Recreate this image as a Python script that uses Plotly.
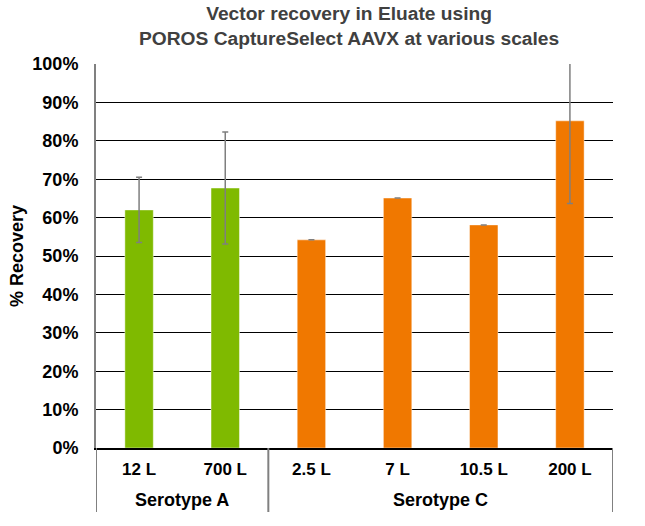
import plotly.graph_objects as go

groups = ["Serotype A", "Serotype A", "Serotype C", "Serotype C", "Serotype C", "Serotype C"]
scales = ["12 L", "700 L", "2.5 L", "7 L", "10.5 L", "200 L"]
recovery = [0.620, 0.677, 0.542, 0.651, 0.581, 0.852]
error = [0.085, 0.146, 0.0, 0.0, 0.0, 0.215]
colors = ["#7FBA00", "#7FBA00", "#F07800", "#F07800", "#F07800", "#F07800"]

font_family = "Liberation Sans, Arial, sans-serif"

fig = go.Figure(
    go.Bar(
        x=scales,
        y=recovery,
        marker=dict(color=colors, line=dict(color="rgba(255,255,255,0.45)", width=1)),
        width=0.33,
        error_y=dict(type="data", array=error, visible=True, color="#7F7F7F",
                     thickness=1.5, width=3),
    )
)

# group labels and separators derived from the group list
group_names = []
for g in groups:
    if g not in group_names:
        group_names.append(g)
boundaries = [-0.5]
for name in group_names:
    idx = [i for i, g in enumerate(groups) if g == name]
    center = sum(idx) / len(idx)
    boundaries.append(max(idx) + 0.5)
    fig.add_annotation(
        x=center, xref="x", y=-0.1354, yref="paper", yanchor="middle",
        text=name, showarrow=False,
        font=dict(family=font_family, size=18, color="black", weight="bold"),
    )
for b in boundaries:
    fig.add_shape(
        type="line", xref="x", yref="paper", x0=b, x1=b, y0=0, y1=-0.1667,
        line=dict(color="#808080", width=2),
    )

fig.add_annotation(
    x=0.489, xref="paper", y=1.099, yref="paper", xanchor="center", yanchor="middle",
    text="Vector recovery in Eluate using<br>POROS CaptureSelect AAVX at various scales",
    showarrow=False,
    font=dict(family=font_family, size=19.2, color="#404040", weight="bold"),
)

fig.update_layout(
    width=645,
    height=526,
    margin=dict(l=96, r=32, t=64, b=78),
    paper_bgcolor="white",
    plot_bgcolor="white",
    showlegend=False,
    font=dict(family=font_family),
)

fig.update_yaxes(
    range=[0, 1],
    dtick=0.1,
    tickformat=".0%",
    showgrid=True,
    gridcolor="black",
    gridwidth=1,
    zeroline=False,
    showline=True,
    linecolor="#808080",
    linewidth=2,
    ticks="",
    ticklen=0,
    ticklabelstandoff=12,
    tickfont=dict(family=font_family, size=18, color="black", weight="bold"),
    title=dict(text="% Recovery", font=dict(family=font_family, size=18, color="black", weight="bold"), standoff=4),
)

fig.update_xaxes(
    type="category",
    range=[-0.5, 5.5],
    showline=True,
    linecolor="black",
    linewidth=1.5,
    showgrid=False,
    ticks="",
    ticklabelstandoff=5,
    tickfont=dict(family=font_family, size=17, color="black", weight="bold"),
)

fig.write_html("out.html", config={"displayModeBar": False},
               post_script="document.body.style.margin='0';")
